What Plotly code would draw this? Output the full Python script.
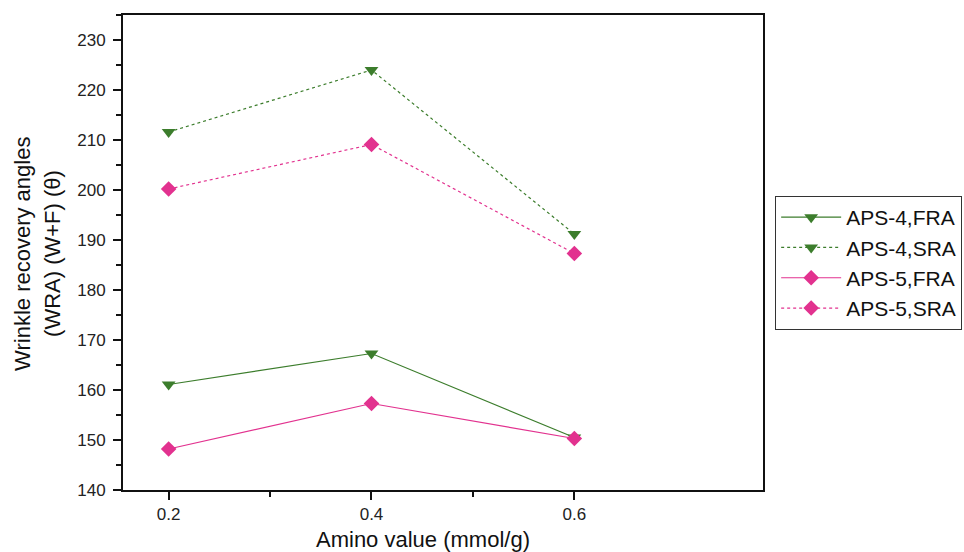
import plotly.graph_objects as go

x_vals = [0.2, 0.4, 0.6]
aps4_fra = [161.1, 167.3, 150.5]
aps4_sra = [211.6, 224.0, 191.2]
aps5_fra = [148.2, 157.3, 150.3]
aps5_sra = [200.2, 209.1, 187.3]

green = "#3c7d2c"
pink = "#e2328f"

series = [
    ("APS-4,FRA", aps4_fra, green, "solid", "triangle-down", 12),
    ("APS-4,SRA", aps4_sra, green, "dot", "triangle-down", 12),
    ("APS-5,FRA", aps5_fra, pink, "solid", "diamond", 12),
    ("APS-5,SRA", aps5_sra, pink, "dot", "diamond", 12),
]

fig = go.Figure()
for name, ys, col, dash, sym, sz in series:
    fig.add_trace(go.Scatter(
        x=x_vals, y=ys, name=name, mode="lines+markers",
        line=dict(color=col, width=1.2, dash=dash),
        marker=dict(symbol=sym, size=sz, color=col),
    ))

font_family = "Liberation Sans, Arial, sans-serif"
fig.update_layout(
    width=964, height=552,
    margin=dict(l=123, r=201, t=15, b=62, autoexpand=False),
    paper_bgcolor="white", plot_bgcolor="white",
    font=dict(family=font_family, color="#222222"),
    legend=dict(
        x=1.019, y=0.619, xanchor="left", yanchor="top",
        bordercolor="#333333", borderwidth=1,
        font=dict(size=21, color="#111111"),
        tracegroupgap=0, itemwidth=60,
    ),
    showlegend=True,
)
fig.update_xaxes(
    range=[0.155, 0.786], tickvals=[0.2, 0.4, 0.6], ticktext=["0.2", "0.4", "0.6"],
    ticks="outside", ticklen=8, tickwidth=1.5, tickcolor="#111111",
    minor=dict(tickvals=[0.3, 0.5], ticks="outside", ticklen=5, tickwidth=1.5, tickcolor="#111111"),
    showline=True, linecolor="#111111", linewidth=2, mirror=True,
    showgrid=False, zeroline=False, ticklabelstandoff=0,
    tickfont=dict(size=17, color="#222222"),
)
fig.update_yaxes(
    range=[140, 235], tickvals=list(range(140, 231, 10)),
    ticks="outside", ticklen=8, tickwidth=1.5, tickcolor="#111111",
    minor=dict(dtick=5, tick0=140, ticks="outside", ticklen=5, tickwidth=1.5, tickcolor="#111111"),
    showline=True, linecolor="#111111", linewidth=2, mirror=True,
    showgrid=False, zeroline=False, ticklabelstandoff=4,
    tickfont=dict(size=17, color="#222222"),
)

title_font = dict(size=22, color="#111111", family=font_family)
fig.add_annotation(text="Amino value (mmol/g)", xref="paper", yref="paper",
                   x=0.46875, y=-0.104, xanchor="center", yanchor="middle",
                   showarrow=False, font=title_font, borderpad=0)
fig.add_annotation(text="Wrinkle recovery angles", xref="paper", yref="paper",
                   x=-0.15625, y=0.497, xanchor="center", yanchor="middle",
                   textangle=-90, showarrow=False, font=title_font, borderpad=0)
fig.add_annotation(text="(WRA) (W+F) (θ)", xref="paper", yref="paper",
                   x=-0.109375, y=0.497, xanchor="center", yanchor="middle",
                   textangle=-90, showarrow=False, font=title_font, borderpad=0)

fig.write_html("out.html")
